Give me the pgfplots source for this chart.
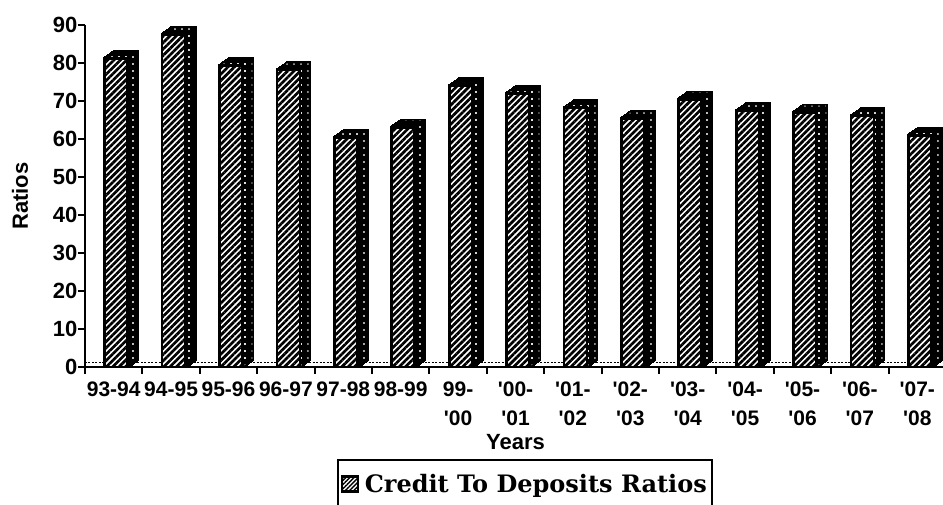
\documentclass[border=0pt]{standalone}
\usepackage{fontspec}
\setmainfont{Liberation Sans}
\newfontfamily\legendfont{DejaVu Serif}
\usepackage{pgfplots}
\usepackage{pgfplotstable}
\pgfplotsset{compat=1.18}
\usetikzlibrary{patterns.meta}

% Credit to deposits ratio per financial year
\pgfplotstableread{
idx ratio
0  81.2
1  87.6
2  79.3
3  78.2
4  60.4
5  63.1
6  74.0
7  72.0
8  68.2
9  65.4
10 70.5
11 67.4
12 67.0
13 66.1
14 61.0
}\ratiotable

\pgfplotsset{
  barbase/.style={ybar, bar width=23pt, bar shift=2.5pt},
}

\begin{document}
\begin{tikzpicture}
\begin{axis}[
  at={(0pt,0pt)}, anchor=south west,
  scale only axis, width=861pt, height=342pt,
  xmin=-0.5, xmax=14.5, ymin=0, ymax=90,
  clip=false,
  axis x line*=bottom, axis y line*=left,
  axis line style={line width=2.5pt, black},
  tick align=outside,
  major tick length=7pt,
  tick style={line width=2pt, black},
  ytick={0,10,...,90},
  xtick={-0.5,0.5,...,14.5},
  x tick label as interval,
  xticklabels={93-94,94-95,95-96,96-97,97-98,98-99,
    {99-\\\textquotesingle00},
    {\textquotesingle00-\\\textquotesingle01},
    {\textquotesingle01-\\\textquotesingle02},
    {\textquotesingle02-\\\textquotesingle03},
    {\textquotesingle03-\\\textquotesingle04},
    {\textquotesingle04-\\\textquotesingle05},
    {\textquotesingle05-\\\textquotesingle06},
    {\textquotesingle06-\\\textquotesingle07},
    {\textquotesingle07-\\\textquotesingle08}},
  xticklabel style={font=\bfseries\fontsize{21}{29}\selectfont, align=center, yshift=-4pt},
  yticklabel style={font=\bfseries\fontsize{22}{24}\selectfont, xshift=3pt},
  /pgf/number format/assume math mode=true,
  xlabel={Years}, ylabel={Ratios},
  every axis x label/.style={at={(axis description cs:0.5,0)}, anchor=center,
    yshift=-75pt, font=\bfseries\fontsize{22}{24}\selectfont},
  every axis y label/.style={at={(axis description cs:-0.0755,0.5)}, anchor=center,
    rotate=90, font=\bfseries\fontsize{22}{24}\selectfont},
  legend style={at={(axis description cs:0.293,-0.27)}, anchor=north west,
    draw=black, line width=2pt,
    font=\legendfont\bfseries\fontsize{24}{28}\selectfont,
    inner xsep=3pt, inner ysep=12pt, column sep=4pt},
  legend cell align=left,
  legend image code/.code={
    \draw[line width=1.5pt, draw=black, preaction={fill=white},
      pattern={Lines[angle=45,distance=3pt,line width=1.5pt]}, pattern color=black]
      (2pt,-7pt) rectangle (18pt,8pt);},
]

% floor strip
\addplot[forget plot, black, line width=1pt, dash pattern=on 2pt off 1.5pt, yshift=4pt]
  coordinates {(-0.5,0) (14.5,0)};

% depth of the columns: outline and dark fill
\pgfplotsinvokeforeach{10,9,8,7,6,5,4,3,2,1}{
  \addplot[barbase, forget plot, draw=black, fill=black, line width=2.8pt,
    xshift=#1pt, yshift=#1*0.7pt] table[x=idx,y=ratio]{\ratiotable};
}
% depth of the columns: light speckle
\pgfplotsinvokeforeach{10,9,8,7,6,5,4,3,2,1}{
  \addplot[barbase, forget plot, draw=none,
    pattern={Dots[distance=7pt,radius=0.7pt]}, pattern color=white,
    xshift=#1pt, yshift=#1*0.7pt] table[x=idx,y=ratio]{\ratiotable};
}
% front faces
\addplot[barbase, draw=black, line width=2.8pt, preaction={fill=white},
  pattern={Lines[angle=45,distance=4.5pt,line width=2.7pt]}, pattern color=black]
  table[x=idx,y=ratio]{\ratiotable};
\addlegendentry{Credit To Deposits Ratios}
\end{axis}
\pgfresetboundingbox
\useasboundingbox (-85pt,-138pt) rectangle (858pt,367pt);
\end{tikzpicture}
\end{document}
